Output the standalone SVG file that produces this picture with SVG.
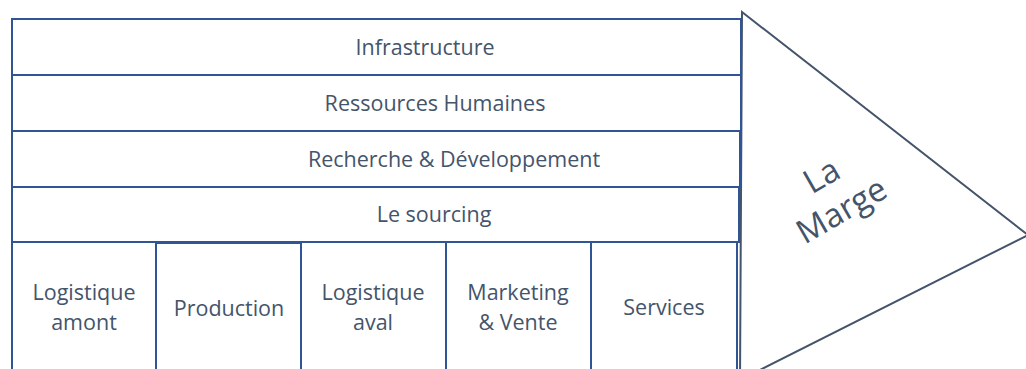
<svg xmlns="http://www.w3.org/2000/svg" width="1026" height="369" viewBox="0 0 1026 369">
<style>
.cell{fill:#fff;stroke:#2F5597;stroke-width:2}
.t{font-family:"Open Sans","Liberation Sans",sans-serif;font-size:21.5px;fill:#44546A;text-anchor:middle;dominant-baseline:central}
.m{font-family:"Open Sans","Liberation Sans",sans-serif;font-size:33px;fill:#44546A;text-anchor:middle;dominant-baseline:central}
</style>
<rect width="1026" height="369" fill="#fff"/>
<g id="marge">
<polygon points="742,12 1028,235 740,380" fill="#fff" stroke="#44546A" stroke-width="2"/>
<g transform="translate(831,192) rotate(-30)">
<text class="m" x="0" y="-20">La</text>
<text class="m" x="0" y="20">Marge</text>
</g>
</g>
<g id="infrastructure"><rect class="cell" x="12" y="19" width="729" height="56"/><text class="t" x="425" y="46">Infrastructure</text></g>
<g id="rh"><rect class="cell" x="12" y="75" width="729" height="56"/><text class="t" x="435" y="102">Ressources Humaines</text></g>
<g id="rd"><rect class="cell" x="12" y="131" width="728" height="56"/><text class="t" x="454" y="158">Recherche &amp; Développement</text></g>
<g id="sourcing"><rect class="cell" x="12" y="187" width="727" height="55"/><text class="t" x="434" y="213">Le sourcing</text></g>
<g id="log-amont"><rect class="cell" x="12" y="242" width="144" height="140"/><text class="t" x="84" y="291">Logistique</text><text class="t" x="84" y="321">amont</text></g>
<g id="production"><rect class="cell" x="156" y="243" width="145" height="140"/><text class="t" x="229" y="307">Production</text></g>
<g id="log-aval"><rect class="cell" x="301" y="242" width="145" height="140"/><text class="t" x="373" y="291">Logistique</text><text class="t" x="373" y="321">aval</text></g>
<g id="marketing"><rect class="cell" x="446" y="242" width="145" height="140"/><text class="t" x="518" y="291">Marketing</text><text class="t" x="518" y="321">&amp; Vente</text></g>
<g id="services"><rect class="cell" x="591" y="242" width="146" height="140"/><text class="t" x="664" y="306">Services</text></g>
<g id="connectors"/>
</svg>
